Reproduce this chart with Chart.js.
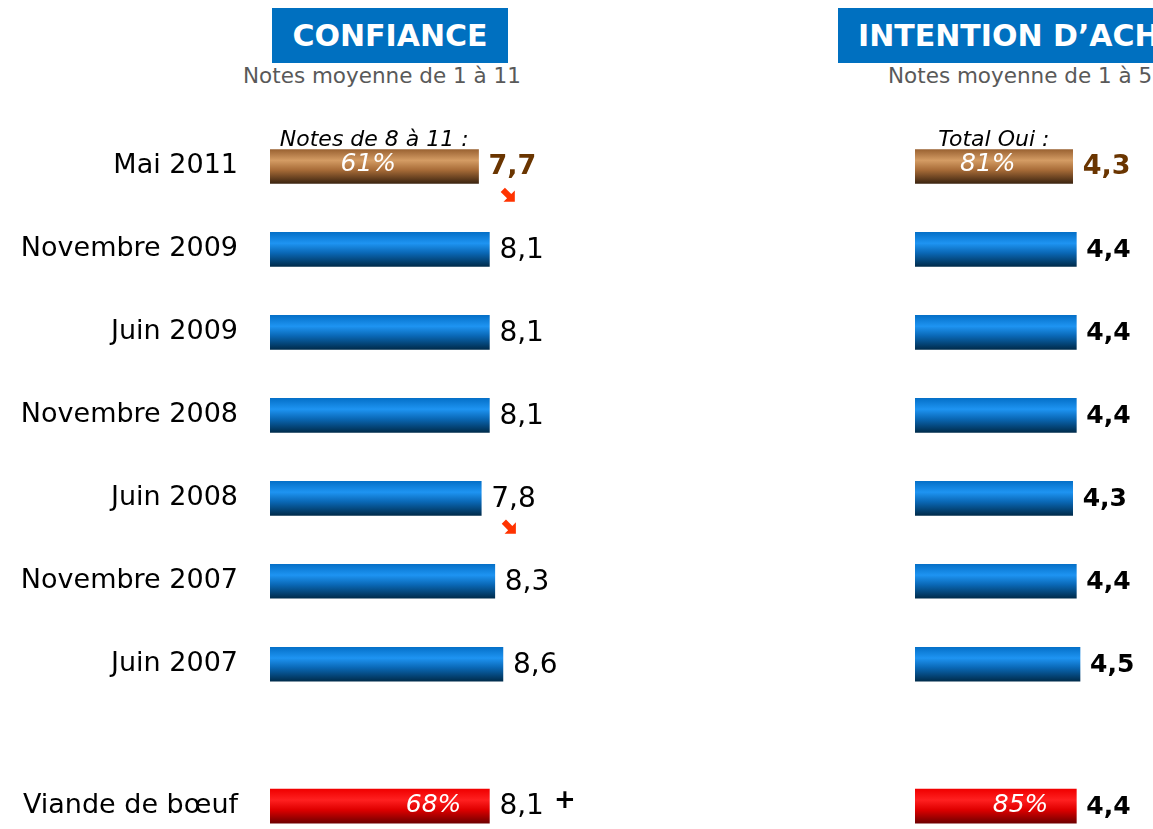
<!DOCTYPE html>
<html>
<head>
<meta charset="utf-8">
<script src="https://cdn.jsdelivr.net/npm/chart.js@4.4.1/dist/chart.umd.min.js"></script>
<style>
  body { margin: 0; width: 1153px; height: 829px; overflow: hidden; background: #fff; position: relative; font-family: "DejaVu Sans", Verdana, sans-serif; }
  .box { position: absolute; top: 8px; height: 55px; background: #0070c0; color: #fff; font-weight: bold; font-size: 30px; line-height: 56px; white-space: nowrap; overflow: hidden; }
  .sub { position: absolute; top: 63px; font-size: 21.5px; color: #595959; white-space: nowrap; }
  canvas { position: absolute; top: 0; }
</style>
</head>
<body>
<div class="box" style="left:272px;width:236px;text-align:center">CONFIANCE</div>
<div class="sub" style="left:243px">Notes moyenne de 1 à 11</div>
<div class="box" style="left:838px;width:330px;padding-left:20px">INTENTION D’ACHAT</div>
<div class="sub" style="left:888px">Notes moyenne de 1 à 5</div>
<canvas id="confChart" width="600" height="829" style="left:0"></canvas>
<canvas id="intChart" width="253" height="829" style="left:900px"></canvas>
<script>
// rows, top to bottom
const categories = ['Mai 2011', 'Novembre 2009', 'Juin 2009', 'Novembre 2008', 'Juin 2008', 'Novembre 2007', 'Juin 2007', 'Viande de bœuf'];
const rowPos = [0, 1, 2, 3, 4, 5, 6, 7.71];
const confiance = [7.7, 8.1, 8.1, 8.1, 7.8, 8.3, 8.6, 8.1];
const intention = [4.3, 4.4, 4.4, 4.4, 4.3, 4.4, 4.5, 4.4];
const confPct = [61, null, null, null, null, null, null, 68];
const intPct = [81, null, null, null, null, null, null, 85];
const confTrend = ['down', null, null, null, 'down', null, null, '+'];
const intTrend = [null, null, null, null, null, null, null, null];

const BAR = 34;

function barFill(context) {
  const chart = context.chart;
  const i = context.dataIndex;
  const yScale = chart.scales.y;
  let stops;
  if (i === 0) stops = ['#9a6232', '#d49c64', '#a86c38', '#3c2410'];
  else if (i === categories.length - 1) stops = ['#f00000', '#ff2020', '#e00000', '#700000'];
  else stops = ['#0570c8', '#1e94f2', '#0a68b6', '#002c4c'];
  if (!yScale || !chart.chartArea) return stops[2];
  const cy = yScale.getPixelForValue(rowPos[i]);
  const g = chart.ctx.createLinearGradient(0, cy - BAR / 2, 0, cy + BAR / 2);
  g.addColorStop(0, stops[0]);
  g.addColorStop(0.32, stops[1]);
  g.addColorStop(0.6, stops[2]);
  g.addColorStop(1, stops[3]);
  return g;
}

function fmt(v) { return v.toFixed(1).replace('.', ','); }

const barLabels = {
  id: 'barLabels',
  afterDatasetsDraw(chart) {
    const ds = chart.data.datasets[0];
    const meta = chart.getDatasetMeta(0);
    const ctx = chart.ctx;
    const x0 = chart.scales.x.getPixelForValue(0);
    ctx.save();
    ctx.textBaseline = 'middle';
    meta.data.forEach((el, i) => {
      const v = ds.data[i].x;
      // value at bar end
      ctx.textAlign = 'left';
      if (i === 0) {
        ctx.font = 'bold 27px "DejaVu Sans"';
        ctx.fillStyle = '#6a3500';
      } else {
        ctx.font = ds.valueFont;
        ctx.fillStyle = '#000';
      }
      const tx = el.x + 10;
      ctx.fillText(fmt(v), tx, el.y + 1);
      const tw = ctx.measureText(fmt(v)).width;
      // percent inside bar
      const p = ds.pct[i];
      if (p != null) {
        ctx.font = 'italic 25px "DejaVu Sans"';
        ctx.fillStyle = '#fff';
        if (i === 0) {
          ctx.textAlign = 'center';
          ctx.fillText(p + '%', (x0 + el.x) / 2 - 6, el.y - 2);
        } else {
          ctx.textAlign = 'right';
          ctx.fillText(p + '%', el.x - 28, el.y - 1);
        }
      }
      // trend marker
      const t = ds.trend[i];
      if (t === 'down') {
        const ax = tx + tw / 2 - 4, ay = el.y + 29;
        ctx.save();
        ctx.translate(ax, ay);
        ctx.rotate(Math.PI / 4);
        ctx.fillStyle = '#ff3300';
        ctx.beginPath();
        ctx.moveTo(-8, -3); ctx.lineTo(1, -3); ctx.lineTo(1, -8);
        ctx.lineTo(9, 0); ctx.lineTo(1, 8); ctx.lineTo(1, 3); ctx.lineTo(-8, 3);
        ctx.closePath();
        ctx.fill();
        ctx.restore();
      } else if (t === '+') {
        ctx.textAlign = 'left';
        ctx.font = 'bold 26px "DejaVu Sans"';
        ctx.fillStyle = '#000';
        ctx.fillText('+', tx + tw + 10, el.y - 5);
      }
    });
    // note above the first bar
    const first = meta.data[0];
    ctx.textAlign = 'center';
    ctx.textBaseline = 'alphabetic';
    ctx.font = 'italic 22px "DejaVu Sans"';
    ctx.fillStyle = '#000';
    ctx.fillText(ds.note, (x0 + first.x) / 2, first.y - BAR / 2 - 3);
    ctx.restore();
  }
};

function makeChart(id, values, pct, trend, note, valueFont, xMax, axisWidth, showLabels, padRight) {
  return new Chart(document.getElementById(id), {
    type: 'bar',
    data: {
      datasets: [{
        data: values.map((v, i) => ({ x: v, y: rowPos[i] })),
        pct: pct,
        trend: trend,
        note: note,
        valueFont: valueFont,
        backgroundColor: barFill,
        borderWidth: 0,
        barThickness: BAR
      }]
    },
    options: {
      indexAxis: 'y',
      responsive: false,
      animation: false,
      layout: { padding: { top: 125, bottom: 3, right: padRight, left: 0 } },
      plugins: { legend: { display: false }, tooltip: { enabled: false } },
      scales: {
        x: { display: false, min: 0, max: xMax },
        y: {
          type: 'linear',
          reverse: true,
          offset: false,
          min: -0.5,
          max: 7.95,
          grid: { display: false, offset: false },
          border: { display: false },
          afterBuildTicks: scale => { scale.ticks = rowPos.map(v => ({ value: v })); },
          afterFit: scale => {
            scale.width = axisWidth;
            scale.paddingTop = 0;
            scale.paddingBottom = 0;
          },
          ticks: {
            display: showLabels,
            padding: 24,
            color: '#000',
            font: { family: 'DejaVu Sans', size: 27 },
            callback: (value, index) => categories[index]
          }
        }
      }
    },
    plugins: [barLabels]
  });
}

makeChart('confChart', confiance, confPct, confTrend, 'Notes de 8 à 11 :', '28px "DejaVu Sans"', 12, 270, true, 5);
makeChart('intChart', intention, intPct, intTrend, 'Total Oui :', 'bold 25px "DejaVu Sans"', 6, 15, false, 18);
</script>
</body>
</html>
